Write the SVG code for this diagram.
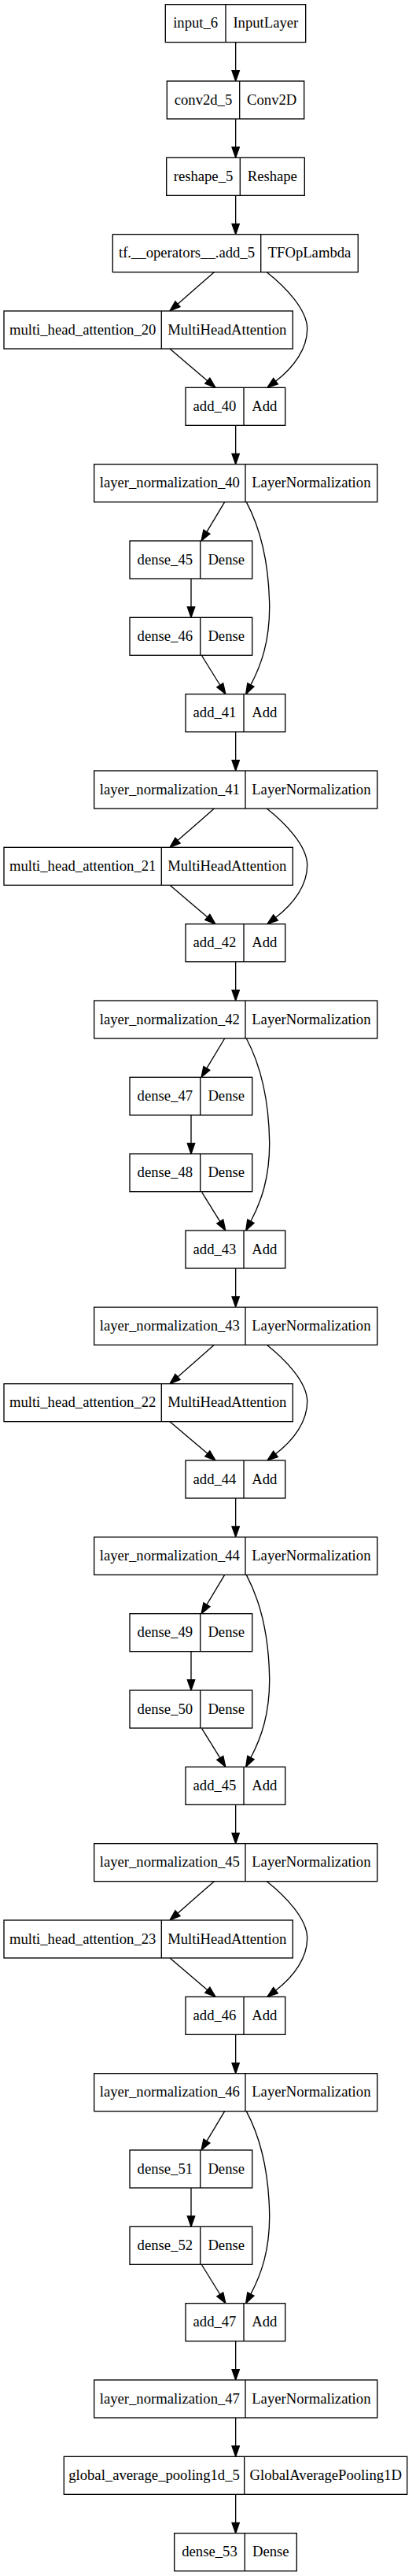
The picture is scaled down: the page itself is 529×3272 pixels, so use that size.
<svg xmlns="http://www.w3.org/2000/svg" width="529" height="3272" viewBox="0 0 529 3272">
<style>
.box{fill:#fff;stroke:#000;stroke-width:1.33}
.div{stroke:#000;stroke-width:1.33}
.t{font-family:"Liberation Serif","Times New Roman",serif;font-size:18.67px;text-anchor:middle;fill:#000}
.e{fill:none;stroke:#000;stroke-width:1.33;marker-end:url(#arr)}
</style>
<defs>
<marker id="arr" markerUnits="userSpaceOnUse" markerWidth="16" markerHeight="12" viewBox="0 -6 16 12" refX="0" refY="0" orient="auto" overflow="visible">
<path d="M0,-4.67 L13.33,0 L0,4.67 z" fill="#000" stroke="#000" stroke-width="1.33"/>
</marker>
</defs>
<rect x="0" y="0" width="529" height="3272" fill="#fff"/>
<g id="edges">
<path class="e" transform="translate(0,5.67)" d="M299.67,48 V84"/>
<path class="e" transform="translate(0,103)" d="M299.67,48 V84"/>
<path class="e" transform="translate(0,200.33)" d="M299.67,48 V84"/>
<g transform="translate(0,297.67)">
<path class="e" d="M272.3,48 L226,88.55"/>
<path class="e" d="M216,145.33 L263.8,186"/>
<path class="e" d="M339.3,48 C362,66 390.7,95 390.7,120 C390.7,145 374,168.5 350.5,186.5"/>
</g>
<path class="e" transform="translate(0,492.33)" d="M299.67,48 V84"/>
<g transform="translate(0,589.67)">
<path class="e" d="M285.7,48 L262.9,85.9"/>
<path class="e" d="M243,145.33 V181.33"/>
<path class="e" d="M256.7,243.33 L279.8,280.6"/>
<path class="e" d="M313.3,48 C333,85 342,130 342.7,180 C343,225 332,255.5 318.9,280.2"/>
</g>
<path class="e" transform="translate(0,881.67)" d="M299.67,48 V84"/>
<g transform="translate(0,979)">
<path class="e" d="M272.3,48 L226,88.55"/>
<path class="e" d="M216,145.33 L263.8,186"/>
<path class="e" d="M339.3,48 C362,66 390.7,95 390.7,120 C390.7,145 374,168.5 350.5,186.5"/>
</g>
<path class="e" transform="translate(0,1173.67)" d="M299.67,48 V84"/>
<g transform="translate(0,1271)">
<path class="e" d="M285.7,48 L262.9,85.9"/>
<path class="e" d="M243,145.33 V181.33"/>
<path class="e" d="M256.7,243.33 L279.8,280.6"/>
<path class="e" d="M313.3,48 C333,85 342,130 342.7,180 C343,225 332,255.5 318.9,280.2"/>
</g>
<path class="e" transform="translate(0,1563)" d="M299.67,48 V84"/>
<g transform="translate(0,1660.33)">
<path class="e" d="M272.3,48 L226,88.55"/>
<path class="e" d="M216,145.33 L263.8,186"/>
<path class="e" d="M339.3,48 C362,66 390.7,95 390.7,120 C390.7,145 374,168.5 350.5,186.5"/>
</g>
<path class="e" transform="translate(0,1855)" d="M299.67,48 V84"/>
<g transform="translate(0,1952.33)">
<path class="e" d="M285.7,48 L262.9,85.9"/>
<path class="e" d="M243,145.33 V181.33"/>
<path class="e" d="M256.7,243.33 L279.8,280.6"/>
<path class="e" d="M313.3,48 C333,85 342,130 342.7,180 C343,225 332,255.5 318.9,280.2"/>
</g>
<path class="e" transform="translate(0,2244.33)" d="M299.67,48 V84"/>
<g transform="translate(0,2341.67)">
<path class="e" d="M272.3,48 L226,88.55"/>
<path class="e" d="M216,145.33 L263.8,186"/>
<path class="e" d="M339.3,48 C362,66 390.7,95 390.7,120 C390.7,145 374,168.5 350.5,186.5"/>
</g>
<path class="e" transform="translate(0,2536.33)" d="M299.67,48 V84"/>
<g transform="translate(0,2633.67)">
<path class="e" d="M285.7,48 L262.9,85.9"/>
<path class="e" d="M243,145.33 V181.33"/>
<path class="e" d="M256.7,243.33 L279.8,280.6"/>
<path class="e" d="M313.3,48 C333,85 342,130 342.7,180 C343,225 332,255.5 318.9,280.2"/>
</g>
<path class="e" transform="translate(0,2925.67)" d="M299.67,48 V84"/>
<path class="e" transform="translate(0,3023)" d="M299.67,48 V84"/>
<path class="e" transform="translate(0,3120.33)" d="M299.67,48 V84"/>
</g>

<g id="input_6" transform="translate(0,5.67)"><rect class="box" x="210.3" y="0" width="178.4" height="48"/><line class="div" x1="287" y1="0" x2="287" y2="48"/><text class="t" x="248.65" y="29.7">input_6</text><text class="t" x="337.85" y="29.7">InputLayer</text></g>
<g id="conv2d_5" transform="translate(0,103)"><rect class="box" x="212.3" y="0" width="174.4" height="48"/><line class="div" x1="304.7" y1="0" x2="304.7" y2="48"/><text class="t" x="258.5" y="29.7">conv2d_5</text><text class="t" x="345.7" y="29.7">Conv2D</text></g>
<g id="reshape_5" transform="translate(0,200.33)"><rect class="box" x="211.7" y="0" width="175.6" height="48"/><line class="div" x1="305.3" y1="0" x2="305.3" y2="48"/><text class="t" x="258.5" y="29.7">reshape_5</text><text class="t" x="346.3" y="29.7">Reshape</text></g>
<g id="tf_add_5" transform="translate(0,297.67)"><rect class="box" x="143.3" y="0" width="312" height="48"/><line class="div" x1="331.7" y1="0" x2="331.7" y2="48"/><text class="t" x="237.5" y="29.7">tf.__operators__.add_5</text><text class="t" x="393.5" y="29.7">TFOpLambda</text></g>

<g id="multi_head_attention_20" transform="translate(0,395)"><rect class="box" x="5" y="0" width="367.3" height="48"/><line class="div" x1="205.3" y1="0" x2="205.3" y2="48"/><text class="t" x="105.15" y="29.7">multi_head_attention_20</text><text class="t" x="288.8" y="29.7">MultiHeadAttention</text></g>
<g id="add_40" transform="translate(0,492.33)"><rect class="box" x="236" y="0" width="126.7" height="48"/><line class="div" x1="310" y1="0" x2="310" y2="48"/><text class="t" x="273" y="29.7">add_40</text><text class="t" x="336.35" y="29.7">Add</text></g>
<g id="layer_normalization_40" transform="translate(0,589.67)"><rect class="box" x="119.7" y="0" width="360" height="48"/><line class="div" x1="312" y1="0" x2="312" y2="48"/><text class="t" x="215.85" y="29.7">layer_normalization_40</text><text class="t" x="395.85" y="29.7">LayerNormalization</text></g>
<g id="dense_45" transform="translate(0,687)"><rect class="box" x="165" y="0" width="155.7" height="48"/><line class="div" x1="254.7" y1="0" x2="254.7" y2="48"/><text class="t" x="209.85" y="29.7">dense_45</text><text class="t" x="287.7" y="29.7">Dense</text></g>
<g id="dense_46" transform="translate(0,784.33)"><rect class="box" x="165" y="0" width="155.7" height="48"/><line class="div" x1="254.7" y1="0" x2="254.7" y2="48"/><text class="t" x="209.85" y="29.7">dense_46</text><text class="t" x="287.7" y="29.7">Dense</text></g>
<g id="add_41" transform="translate(0,881.67)"><rect class="box" x="236" y="0" width="126.7" height="48"/><line class="div" x1="310" y1="0" x2="310" y2="48"/><text class="t" x="273" y="29.7">add_41</text><text class="t" x="336.35" y="29.7">Add</text></g>
<g id="layer_normalization_41" transform="translate(0,979)"><rect class="box" x="119.7" y="0" width="360" height="48"/><line class="div" x1="312" y1="0" x2="312" y2="48"/><text class="t" x="215.85" y="29.7">layer_normalization_41</text><text class="t" x="395.85" y="29.7">LayerNormalization</text></g>

<g id="multi_head_attention_21" transform="translate(0,1076.33)"><rect class="box" x="5" y="0" width="367.3" height="48"/><line class="div" x1="205.3" y1="0" x2="205.3" y2="48"/><text class="t" x="105.15" y="29.7">multi_head_attention_21</text><text class="t" x="288.8" y="29.7">MultiHeadAttention</text></g>
<g id="add_42" transform="translate(0,1173.67)"><rect class="box" x="236" y="0" width="126.7" height="48"/><line class="div" x1="310" y1="0" x2="310" y2="48"/><text class="t" x="273" y="29.7">add_42</text><text class="t" x="336.35" y="29.7">Add</text></g>
<g id="layer_normalization_42" transform="translate(0,1271)"><rect class="box" x="119.7" y="0" width="360" height="48"/><line class="div" x1="312" y1="0" x2="312" y2="48"/><text class="t" x="215.85" y="29.7">layer_normalization_42</text><text class="t" x="395.85" y="29.7">LayerNormalization</text></g>
<g id="dense_47" transform="translate(0,1368.33)"><rect class="box" x="165" y="0" width="155.7" height="48"/><line class="div" x1="254.7" y1="0" x2="254.7" y2="48"/><text class="t" x="209.85" y="29.7">dense_47</text><text class="t" x="287.7" y="29.7">Dense</text></g>
<g id="dense_48" transform="translate(0,1465.67)"><rect class="box" x="165" y="0" width="155.7" height="48"/><line class="div" x1="254.7" y1="0" x2="254.7" y2="48"/><text class="t" x="209.85" y="29.7">dense_48</text><text class="t" x="287.7" y="29.7">Dense</text></g>
<g id="add_43" transform="translate(0,1563)"><rect class="box" x="236" y="0" width="126.7" height="48"/><line class="div" x1="310" y1="0" x2="310" y2="48"/><text class="t" x="273" y="29.7">add_43</text><text class="t" x="336.35" y="29.7">Add</text></g>
<g id="layer_normalization_43" transform="translate(0,1660.33)"><rect class="box" x="119.7" y="0" width="360" height="48"/><line class="div" x1="312" y1="0" x2="312" y2="48"/><text class="t" x="215.85" y="29.7">layer_normalization_43</text><text class="t" x="395.85" y="29.7">LayerNormalization</text></g>

<g id="multi_head_attention_22" transform="translate(0,1757.67)"><rect class="box" x="5" y="0" width="367.3" height="48"/><line class="div" x1="205.3" y1="0" x2="205.3" y2="48"/><text class="t" x="105.15" y="29.7">multi_head_attention_22</text><text class="t" x="288.8" y="29.7">MultiHeadAttention</text></g>
<g id="add_44" transform="translate(0,1855)"><rect class="box" x="236" y="0" width="126.7" height="48"/><line class="div" x1="310" y1="0" x2="310" y2="48"/><text class="t" x="273" y="29.7">add_44</text><text class="t" x="336.35" y="29.7">Add</text></g>
<g id="layer_normalization_44" transform="translate(0,1952.33)"><rect class="box" x="119.7" y="0" width="360" height="48"/><line class="div" x1="312" y1="0" x2="312" y2="48"/><text class="t" x="215.85" y="29.7">layer_normalization_44</text><text class="t" x="395.85" y="29.7">LayerNormalization</text></g>
<g id="dense_49" transform="translate(0,2049.67)"><rect class="box" x="165" y="0" width="155.7" height="48"/><line class="div" x1="254.7" y1="0" x2="254.7" y2="48"/><text class="t" x="209.85" y="29.7">dense_49</text><text class="t" x="287.7" y="29.7">Dense</text></g>
<g id="dense_50" transform="translate(0,2147)"><rect class="box" x="165" y="0" width="155.7" height="48"/><line class="div" x1="254.7" y1="0" x2="254.7" y2="48"/><text class="t" x="209.85" y="29.7">dense_50</text><text class="t" x="287.7" y="29.7">Dense</text></g>
<g id="add_45" transform="translate(0,2244.33)"><rect class="box" x="236" y="0" width="126.7" height="48"/><line class="div" x1="310" y1="0" x2="310" y2="48"/><text class="t" x="273" y="29.7">add_45</text><text class="t" x="336.35" y="29.7">Add</text></g>
<g id="layer_normalization_45" transform="translate(0,2341.67)"><rect class="box" x="119.7" y="0" width="360" height="48"/><line class="div" x1="312" y1="0" x2="312" y2="48"/><text class="t" x="215.85" y="29.7">layer_normalization_45</text><text class="t" x="395.85" y="29.7">LayerNormalization</text></g>

<g id="multi_head_attention_23" transform="translate(0,2439)"><rect class="box" x="5" y="0" width="367.3" height="48"/><line class="div" x1="205.3" y1="0" x2="205.3" y2="48"/><text class="t" x="105.15" y="29.7">multi_head_attention_23</text><text class="t" x="288.8" y="29.7">MultiHeadAttention</text></g>
<g id="add_46" transform="translate(0,2536.33)"><rect class="box" x="236" y="0" width="126.7" height="48"/><line class="div" x1="310" y1="0" x2="310" y2="48"/><text class="t" x="273" y="29.7">add_46</text><text class="t" x="336.35" y="29.7">Add</text></g>
<g id="layer_normalization_46" transform="translate(0,2633.67)"><rect class="box" x="119.7" y="0" width="360" height="48"/><line class="div" x1="312" y1="0" x2="312" y2="48"/><text class="t" x="215.85" y="29.7">layer_normalization_46</text><text class="t" x="395.85" y="29.7">LayerNormalization</text></g>
<g id="dense_51" transform="translate(0,2731)"><rect class="box" x="165" y="0" width="155.7" height="48"/><line class="div" x1="254.7" y1="0" x2="254.7" y2="48"/><text class="t" x="209.85" y="29.7">dense_51</text><text class="t" x="287.7" y="29.7">Dense</text></g>
<g id="dense_52" transform="translate(0,2828.33)"><rect class="box" x="165" y="0" width="155.7" height="48"/><line class="div" x1="254.7" y1="0" x2="254.7" y2="48"/><text class="t" x="209.85" y="29.7">dense_52</text><text class="t" x="287.7" y="29.7">Dense</text></g>
<g id="add_47" transform="translate(0,2925.67)"><rect class="box" x="236" y="0" width="126.7" height="48"/><line class="div" x1="310" y1="0" x2="310" y2="48"/><text class="t" x="273" y="29.7">add_47</text><text class="t" x="336.35" y="29.7">Add</text></g>
<g id="layer_normalization_47" transform="translate(0,3023)"><rect class="box" x="119.7" y="0" width="360" height="48"/><line class="div" x1="312" y1="0" x2="312" y2="48"/><text class="t" x="215.85" y="29.7">layer_normalization_47</text><text class="t" x="395.85" y="29.7">LayerNormalization</text></g>
<g id="global_average_pooling1d_5" transform="translate(0,3120.33)"><rect class="box" x="81.3" y="0" width="436.4" height="48"/><line class="div" x1="310.7" y1="0" x2="310.7" y2="48"/><text class="t" x="196" y="29.7">global_average_pooling1d_5</text><text class="t" x="414.2" y="29.7">GlobalAveragePooling1D</text></g>
<g id="dense_53" transform="translate(0,3217.67)"><rect class="box" x="221.7" y="0" width="155.6" height="48"/><line class="div" x1="311.3" y1="0" x2="311.3" y2="48"/><text class="t" x="266.5" y="29.7">dense_53</text><text class="t" x="344.3" y="29.7">Dense</text></g>
</svg>
